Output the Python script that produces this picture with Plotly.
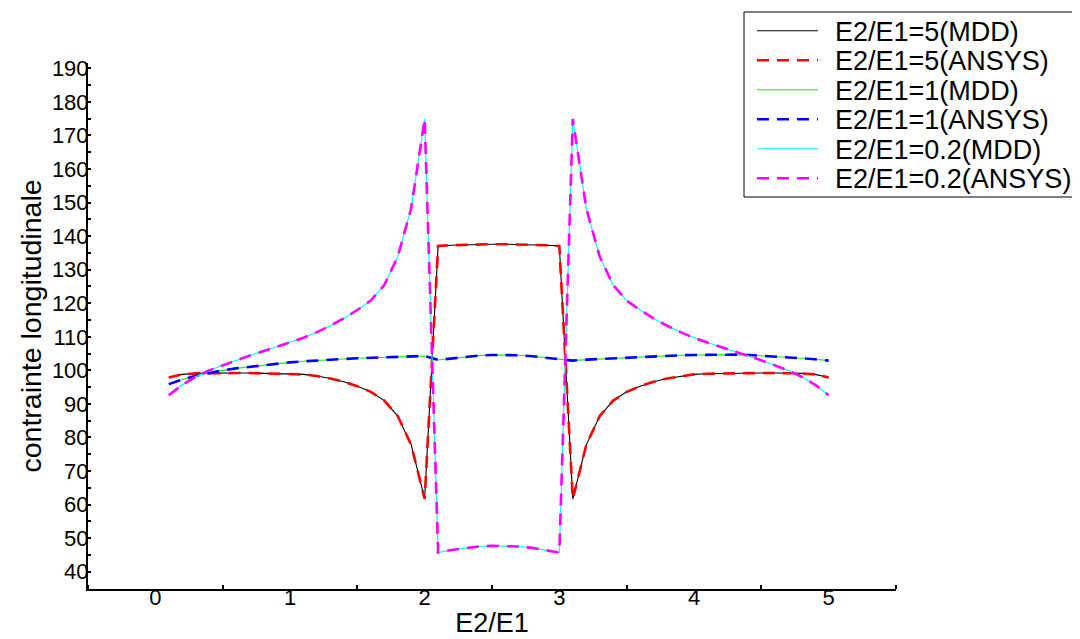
import plotly.graph_objects as go

# ---------------- data ----------------
x_ratio = [0.1, 0.2, 0.3, 0.4, 0.5, 0.6, 0.7, 0.8, 0.9, 1.0,
           1.1, 1.2, 1.3, 1.4, 1.5, 1.6, 1.7, 1.8, 1.9, 2.0,
           2.1, 2.2, 2.3, 2.4, 2.5, 2.6, 2.7, 2.8, 2.9, 3.0,
           3.1, 3.2, 3.3, 3.4, 3.5, 3.6, 3.7, 3.8, 3.9, 4.0,
           4.1, 4.2, 4.3, 4.4, 4.5, 4.6, 4.7, 4.8, 4.9, 5.0]

e5_mdd = [97.9, 98.8, 99.1, 99.2, 99.2, 99.2, 99.2, 99.1, 99.1, 99.0,
          98.8, 98.3, 97.6, 96.6, 95.3, 93.6, 91.0, 86.4, 77.8, 61.7,
          137.1, 137.3, 137.45, 137.55, 137.6, 137.6, 137.55, 137.45, 137.3, 137.1,
          61.7, 77.8, 86.4, 91.0, 93.6, 95.3, 96.6, 97.6, 98.3, 98.8,
          99.0, 99.1, 99.1, 99.2, 99.2, 99.2, 99.2, 99.1, 98.8, 97.9]
e5_ansys = [97.9, 98.8, 99.1, 99.2, 99.2, 99.2, 99.2, 99.1, 99.1, 99.0,
            98.8, 98.3, 97.6, 96.6, 95.3, 93.6, 91.0, 86.4, 77.8, 61.7,
            137.1, 137.3, 137.45, 137.55, 137.6, 137.6, 137.55, 137.45, 137.3, 137.1,
            61.7, 77.8, 86.4, 91.0, 93.6, 95.3, 96.6, 97.6, 98.3, 98.8,
            99.0, 99.1, 99.1, 99.2, 99.2, 99.2, 99.2, 99.1, 98.8, 97.9]

e1_mdd = [95.9, 97.3, 98.4, 99.3, 100.0, 100.6, 101.1, 101.6, 102.0, 102.4,
          102.7, 103.0, 103.2, 103.4, 103.6, 103.7, 103.9, 104.0, 104.1, 104.3,
          103.1, 103.6, 104.1, 104.4, 104.6, 104.6, 104.5, 104.2, 103.8, 103.3,
          102.9, 103.2, 103.4, 103.7, 103.9, 104.1, 104.3, 104.4, 104.5, 104.6,
          104.7, 104.7, 104.7, 104.6, 104.4, 104.2, 103.9, 103.6, 103.3, 102.9]
e1_ansys = [95.9, 97.3, 98.4, 99.3, 100.0, 100.6, 101.1, 101.6, 102.0, 102.4,
            102.7, 103.0, 103.2, 103.4, 103.6, 103.7, 103.9, 104.0, 104.1, 104.3,
            103.1, 103.6, 104.1, 104.4, 104.6, 104.6, 104.5, 104.2, 103.8, 103.3,
            102.9, 103.2, 103.4, 103.7, 103.9, 104.1, 104.3, 104.4, 104.5, 104.6,
            104.7, 104.7, 104.7, 104.6, 104.4, 104.2, 103.9, 103.6, 103.3, 102.9]

e02_mdd = [92.6, 95.7, 98.1, 100.0, 101.5, 103.0, 104.4, 105.7, 107.0, 108.3,
           109.7, 111.4, 113.3, 115.5, 118.0, 120.8, 125.4, 133.9, 148.3, 174.9,
           45.7, 46.5, 47.1, 47.5, 47.7, 47.7, 47.5, 47.1, 46.5, 45.7,
           174.9, 148.3, 133.9, 125.4, 120.8, 118.0, 115.5, 113.3, 111.4, 109.7,
           108.3, 107.0, 105.7, 104.4, 103.0, 101.5, 100.0, 98.1, 95.7, 92.6]
e02_ansys = [92.6, 95.7, 98.1, 100.0, 101.5, 103.0, 104.4, 105.7, 107.0, 108.3,
             109.7, 111.4, 113.3, 115.5, 118.0, 120.8, 125.4, 133.9, 148.3, 174.9,
             45.7, 46.5, 47.1, 47.5, 47.7, 47.7, 47.5, 47.1, 46.5, 45.7,
             174.9, 148.3, 133.9, 125.4, 120.8, 118.0, 115.5, 113.3, 111.4, 109.7,
             108.3, 107.0, 105.7, 104.4, 103.0, 101.5, 100.0, 98.1, 95.7, 92.6]

series_names = ["E2/E1=5(MDD)", "E2/E1=5(ANSYS)", "E2/E1=1(MDD)",
                "E2/E1=1(ANSYS)", "E2/E1=0.2(MDD)", "E2/E1=0.2(ANSYS)"]
series_values = [e5_mdd, e5_ansys, e1_mdd, e1_ansys, e02_mdd, e02_ansys]
series_colors = ["#000000", "#ff0000", "#00ff00", "#0000ff", "#00ffff", "#ff00ff"]
series_dashed = [False, True, False, True, False, True]

x_tick_vals = [0, 1, 2, 3, 4, 5]
x_minor_vals = [-0.5, 0.5, 1.5, 2.5, 3.5, 4.5, 5.5]
y_tick_vals = [40, 50, 60, 70, 80, 90, 100, 110, 120, 130, 140, 150, 160, 170, 180, 190]

# ---------------- figure ----------------
FONT = "Liberation Sans, Arial, sans-serif"
W, H = 1072, 631          # page adds an 8px body margin
ML, MR, MT, MB = 80, 184, 55, 50
PW, PH = W - ML - MR, H - MT - MB


def px_to_paper_x(px):
    return (px - 8 - ML) / PW


def py_to_paper_y(py):
    return (H - MB - (py - 8)) / PH


def line_style(col, dashed):
    return dict(color=col, width=2.6 if dashed else 1.1,
                dash="12px,8px" if dashed else "solid")


fig = go.Figure()
for name, vals, col, dashed in zip(series_names, series_values, series_colors, series_dashed):
    fig.add_trace(go.Scatter(
        x=x_ratio, y=vals, name=name, mode="lines",
        line=line_style(col, dashed), showlegend=False,
    ))

# ---- legend (drawn as box + sample lines + labels to match spacing) ----
shapes = [dict(type="rect", xref="paper", yref="paper",
               x0=px_to_paper_x(744), x1=px_to_paper_x(1100),
               y0=py_to_paper_y(197), y1=py_to_paper_y(12),
               line=dict(color="black", width=1), fillcolor="white", layer="above")]
annotations = []
row_y = [30.7, 60.2, 89.7, 119.2, 148.7, 178.2]
for i, (name, col, dashed) in enumerate(zip(series_names, series_colors, series_dashed)):
    yy = py_to_paper_y(row_y[i])
    shapes.append(dict(type="line", xref="paper", yref="paper",
                       x0=px_to_paper_x(757), x1=px_to_paper_x(818), y0=yy, y1=yy,
                       line=line_style(col, dashed), layer="above"))
    annotations.append(dict(text=name, xref="paper", yref="paper",
                            x=px_to_paper_x(833), y=py_to_paper_y(row_y[i] + 1),
                            xanchor="left", yanchor="middle", showarrow=False,
                            font=dict(family=FONT, size=27, color="black")))

fig.update_layout(
    width=W, height=H,
    paper_bgcolor="white", plot_bgcolor="white",
    margin=dict(l=ML, r=MR, t=MT, b=MB, autoexpand=False),
    font=dict(family=FONT, color="black", size=22),
    showlegend=False,
    shapes=shapes, annotations=annotations,
)
fig.update_xaxes(
    range=[-0.5, 5.5], showgrid=False, zeroline=False,
    showline=True, linecolor="black", linewidth=2,
    tickmode="array", tickvals=x_tick_vals, ticktext=[str(v) for v in x_tick_vals],
    ticks="", tickfont=dict(size=22), ticklabelstandoff=-12,
    minor=dict(tickmode="array", tickvals=x_minor_vals, ticks="inside",
               ticklen=4, tickwidth=2, tickcolor="black"),
    title=dict(text="E2/E1", font=dict(size=27), standoff=4),
)
fig.update_yaxes(
    range=[34.85, 191.6], showgrid=False, zeroline=False,
    showline=True, linecolor="black", linewidth=2,
    tickmode="array", tickvals=y_tick_vals,
    ticks="inside", ticklen=3, tickwidth=2, tickcolor="black",
    tickfont=dict(size=22), ticklabelstandoff=-7,
    minor=dict(dtick=5, tick0=0, ticks="inside", ticklen=3, tickwidth=2, tickcolor="black"),
    title=dict(text="contrainte longitudinale", font=dict(size=28.5), standoff=2),
)

fig.write_html("out.html")
